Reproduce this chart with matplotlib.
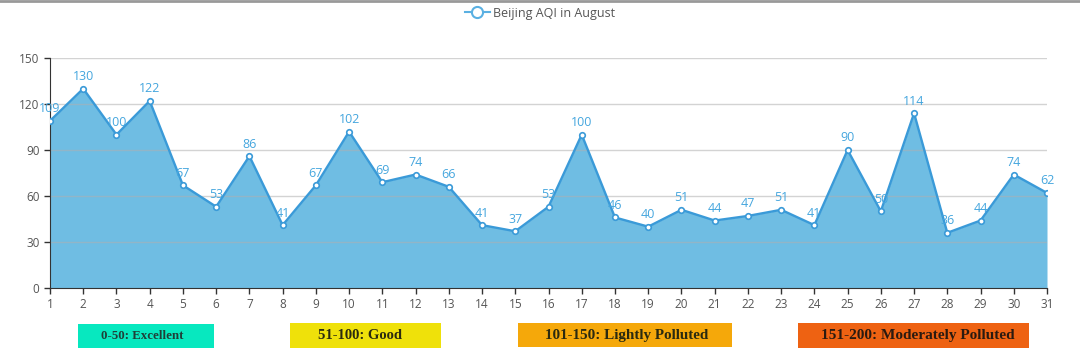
import matplotlib
matplotlib.use("Agg")
import matplotlib.pyplot as plt
from matplotlib.lines import Line2D
from matplotlib.patches import Rectangle

days = list(range(1, 32))
aqi = [109, 130, 100, 122, 67, 53, 86, 41, 67, 102, 69, 74, 66, 41, 37,
       53, 100, 46, 40, 51, 44, 47, 51, 41, 90, 50, 114, 36, 44, 74, 62]
yticks = [0, 30, 60, 90, 120, 150]
series_name = "Beijing AQI in August"
band_labels = ["0-50: Excellent", "51-100: Good", "101-150: Lightly Polluted",
               "151-200: Moderately Polluted"]
band_colors = ["#07e8bf", "#efe10a", "#f5a80a", "#ee6212"]
# box layout in figure pixels: (x0, x1, y0, y1, text centre x, font size, weight, text colour)
band_layout = [(78, 214, 324, 348, 142, 9.3, "bold", "#1f3f38"),
               (290, 441, 323, 348, 359.5, 10.5, "bold", "#2a2a10"),
               (518, 732, 323, 347, 626.5, 10.9, "bold", "#2a2a10"),
               (798, 1029, 323, 348, 918, 11, "bold", "#2a1a10")]

W, H = 1080, 364
fig = plt.figure(figsize=(W / 100, H / 100), dpi=100)
ax = fig.add_axes([50 / W, 1 - 288 / H, (1047 - 50) / W, (288 - 58) / H])

line_c = "#3a9ad8"
fill_c = "#6fbde3"
ax.fill_between(days, aqi, 0, color=fill_c, zorder=1, linewidth=0)
for yt in yticks[1:]:
    ax.axhline(yt, color="#b0b0b0", alpha=0.55, lw=1, zorder=2)
ax.plot(days, aqi, color=line_c, lw=1.7, zorder=3,
        marker="o", ms=4, mfc="white", mec=line_c, mew=1.2)
for d, v in zip(days, aqi):
    ax.annotate(str(v), (d, v), xytext=(0, 4), textcoords="offset points",
                ha="center", va="bottom", color="#45a6de", fontsize=9,
                zorder=4, family="Open Sans")

ax.set_xlim(1, 31)
ax.set_ylim(0, 150)
ax.set_xticks(days)
ax.set_yticks(yticks)
ax.tick_params(axis="both", colors="#333333", labelcolor="#555555",
               labelsize=8.5, length=4, width=1, direction="out")
for lab in ax.get_xticklabels() + ax.get_yticklabels():
    lab.set_family("Open Sans")
for s in ["top", "right"]:
    ax.spines[s].set_visible(False)
ax.spines["left"].set_color("#333333")
ax.spines["bottom"].set_color("#333333")

# legend
handle = Line2D([], [], color="#5ab0e2", lw=1.5, marker="o", ms=8,
                mfc="white", mec="#5ab0e2", mew=1.5)
fig.legend([handle], [series_name], loc="center", bbox_to_anchor=(0.5, 1 - 13 / H),
           frameon=False, labelcolor="#555555", handlelength=2.0,
           handletextpad=0.3, prop={"family": "Open Sans", "size": 9})

# top border
fig.add_artist(Line2D([0, 1], [1 - 1 / H, 1 - 1 / H], color="#999999", lw=2,
                      transform=fig.transFigure))

# band boxes
for (x0, x1, y0, y1, tx, fs, fw, tc), lab, col in zip(band_layout, band_labels, band_colors):
    fig.add_artist(Rectangle((x0 / W, 1 - y1 / H), (x1 - x0) / W, (y1 - y0) / H,
                             transform=fig.transFigure, facecolor=col,
                             edgecolor="none"))
    fig.text(tx / W, 1 - (y0 + y1) / 2 / H, lab, ha="center",
             va="center", fontsize=fs, color=tc, family="Liberation Serif",
             fontweight=fw)

fig.savefig("out.png", dpi=100)
